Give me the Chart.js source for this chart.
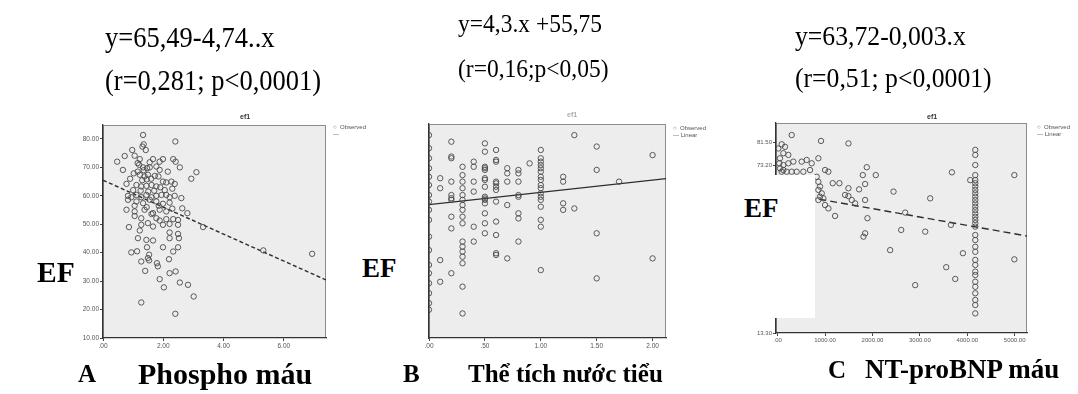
<!DOCTYPE html>
<html>
<head>
<meta charset="utf-8">
<script src="https://cdn.jsdelivr.net/npm/chart.js@4.4.0/dist/chart.umd.min.js"></script>
<style>
  body { margin:0; width:1078px; height:394px; background:#fff; position:relative; overflow:hidden;
         font-family:"Liberation Serif","Times New Roman",serif; }
  .eq { position:absolute; white-space:pre; color:#000; transform-origin:0 50%; transform:scaleY(1.08); }
  .ef { position:absolute; font-weight:bold; color:#000; }
  .cap { position:absolute; font-weight:bold; white-space:pre; color:#000; }
  .plot { position:absolute; }
  .plot canvas { filter: blur(0.45px); }
  .lg { position:absolute; font-family:"Liberation Sans",Arial,sans-serif; font-size:6px; line-height:7px;
        color:#555; white-space:pre; filter:blur(0.3px); }
  .ttl { position:absolute; font-family:"Liberation Sans",Arial,sans-serif; font-size:7px; font-weight:bold;
         color:#333; filter:blur(0.3px); }
  .mask { position:absolute; background:#fff; }
</style>
</head>
<body>

<!-- regression equations -->
<div class="eq" style="left:105px; top:24px; font-size:26.5px; line-height:26px;">y=65,49-4,74..x</div>
<div class="eq" style="left:105px; top:67px; font-size:26.5px; line-height:26px;">(r=0,281; p&lt;0,0001)</div>
<div class="eq" style="left:458px; top:11px; font-size:23.5px; line-height:24px;">y=4,3.x +55,75</div>
<div class="eq" style="left:458px; top:56px; font-size:23.5px; line-height:24px;">(r=0,16;p&lt;0,05)</div>
<div class="eq" style="left:795px; top:23px; font-size:25.7px; line-height:26px;">y=63,72-0,003.x</div>
<div class="eq" style="left:795px; top:65px; font-size:25.7px; line-height:26px;">(r=0,51; p&lt;0,0001)</div>

<!-- scatter panels -->
<div class="plot" style="left:60px; top:120px; width:270px; height:235px;"><canvas id="chartA"></canvas></div>
<div class="plot" style="left:405px; top:118px; width:265px; height:237px;"><canvas id="chartB"></canvas></div>
<div class="plot" style="left:735px; top:118px; width:296px; height:232px;"><canvas id="chartC"></canvas></div>

<!-- panel titles and legends -->
<div class="ttl" style="left:240px; top:113px;">ef1</div>
<div class="ttl" style="left:567px; top:111px; color:#aaa;">ef1</div>
<div class="ttl" style="left:927px; top:113px;">ef1</div>

<div class="lg" style="left:333px; top:124px;">○  Observed
—</div>
<div class="lg" style="left:673px; top:125px;">○  Observed
— Linear</div>
<div class="lg" style="left:1037px; top:124px;">○  Observed
— Linear</div>

<!-- white label box over the left part of panel C -->
<div class="mask" style="left:730px; top:175px; width:85px; height:143px;"></div>

<div class="ef" style="left:37px; top:258px; font-size:29.5px; line-height:29px;">EF</div>
<div class="ef" style="left:362px; top:255px; font-size:27px; line-height:27px;">EF</div>
<div class="ef" style="left:744px; top:195px; font-size:27px; line-height:27px;">EF</div>

<!-- panel captions -->
<div class="cap" style="left:78px; top:361px; font-size:25px; line-height:25px;">A</div>
<div class="cap" style="left:138px; top:359px; font-size:30px; line-height:30px;">Phospho máu</div>
<div class="cap" style="left:403px; top:361px; font-size:25px; line-height:25px;">B</div>
<div class="cap" style="left:468px; top:361px; font-size:25px; line-height:25px;">Thể tích nước tiểu</div>
<div class="cap" style="left:828px; top:357px; font-size:25px; line-height:25px;">C</div>
<div class="cap" style="left:865px; top:356px; font-size:27px; line-height:27px;">NT-proBNP máu</div>

<script>
// ---- Panel A: blood phosphorus vs EF ----
const phosphoA = [1.33,2.40,1.35,1.31,0.97,1.42,0.72,1.05,0.47,1.22,1.66,1.88,1.99,2.33,2.41,0.66,1.20,1.33,1.46,1.55,
  1.77,1.88,2.55,3.10,2.93,1.02,1.22,1.38,1.49,1.72,1.84,1.99,2.10,2.27,2.38,0.78,1.11,1.27,1.44,1.61,
  1.77,0.83,0.94,1.11,1.27,1.44,1.61,1.77,1.94,2.10,2.21,2.38,2.60,0.83,1.11,1.33,1.55,1.77,1.99,2.21,
  0.78,1.05,1.38,1.66,1.88,2.10,2.63,2.80,1.05,1.27,1.61,1.77,1.88,2.10,2.33,2.49,0.86,1.27,1.49,1.66,
  1.99,2.21,2.49,3.32,1.22,1.16,1.44,1.66,2.21,2.49,2.21,2.52,0.94,1.13,1.46,1.53,1.99,2.33,2.49,1.27,
  1.49,1.53,1.79,1.82,2.19,1.40,1.88,2.02,2.21,2.41,2.55,2.82,3.01,1.27,2.40,5.32,6.94,
  1.15,1.30,1.50,1.60,1.70,1.25,1.35,1.90,2.05,1.00,1.45,0.90,1.15,1.55,2.15,2.30,1.05,1.45,1.85,2.30];
const efA = [81.4,79.1,78.1,77.3,76.1,76.1,74.0,74.1,72.0,72.9,72.9,72.0,72.9,72.9,72.0,69.1,70.9,70.0,69.7,70.0,
  70.3,69.1,70.0,68.3,66.0,67.9,67.4,66.8,67.4,67.0,66.8,65.0,64.7,65.0,64.2,64.2,63.8,63.3,63.5,63.8,
  63.3,60.0,59.5,60.3,59.5,60.3,59.5,60.0,60.3,60.3,59.5,60.0,59.2,58.6,58.0,57.4,58.6,58.0,57.2,57.6,
  55.1,54.5,55.1,53.9,55.1,54.5,55.6,53.9,52.9,52.1,53.6,52.1,51.3,51.8,51.8,51.5,49.0,49.8,50.4,49.2,
  49.8,50.1,49.8,49.0,47.8,45.1,44.5,44.3,47.1,46.6,45.1,45.1,40.1,40.5,41.9,39.3,41.9,40.4,41.9,36.9,
  38.1,37.3,36.3,35.2,37.7,33.6,30.7,27.8,32.8,33.4,29.5,28.7,24.6,22.5,18.5,40.8,39.6,
  68.5,65.5,61.5,66.0,61.8,61.8,69.0,63.0,62.0,62.0,65.8,66.0,71.5,71.8,68.5,62.5,56.5,56.0,56.5,55.5];
const regA = { intercept: 65.49, slope: -4.74 };
const xTicksA = [0, 2, 4, 6];
const yTicksA = [10, 20, 30, 40, 50, 60, 70, 80];

// ---- Panel B: urine volume vs EF ----
const urineB = [0,0,0,0,0,0,0,0,0,0,0,0,0,0,0,0,0,0,
  0.1,0.1,0.1,0.1,
  0.2,0.2,0.2,0.2,0.2,0.2,0.2,0.2,0.2,0.2,
  0.3,0.3,0.3,0.3,0.3,0.3,0.3,0.3,0.3,0.3,0.3,0.3,0.3,0.3,0.3,0.3,0.3,
  0.4,0.4,0.4,0.4,0.4,0.4,
  0.5,0.5,0.5,0.5,0.5,0.5,0.5,0.5,0.5,0.5,0.5,0.5,0.5,0.5,0.5,
  0.6,0.6,0.6,0.6,0.6,0.6,0.6,0.6,0.6,0.6,0.6,0.6,
  0.7,0.7,0.7,0.7,0.7,
  0.8,0.8,0.8,0.8,0.8,0.8,0.8,0.8,
  0.9,
  1.0,1.0,1.0,1.0,1.0,1.0,1.0,1.0,1.0,1.0,1.0,1.0,1.0,1.0,1.0,1.0,1.0,
  1.2,1.2,1.2,1.2,
  1.3,1.3,
  1.5,1.5,1.5,1.5,
  1.7,
  2.0,2.0];
const efB = [80.1,75.5,72.0,68.5,65.5,62.6,59.1,56.8,53.9,50.4,44.5,39.8,34.6,31.7,28.2,24.7,21.2,18.9,
  65.0,61.5,36.3,28.7,
  77.8,72.6,72.0,63.8,59.1,58.0,57.4,51.5,47.4,31.7,
  69.0,66.1,63.8,61.5,59.1,57.4,55.6,53.9,51.5,49.2,42.8,41.0,39.3,37.5,35.2,27.0,17.6,
  70.8,69.0,63.8,60.3,48.0,42.8,
  77.2,74.3,69.0,68.5,67.9,65.0,64.4,62.0,58.5,57.9,57.4,56.2,52.7,49.2,45.7,
  74.9,71.4,70.8,63.8,63.2,62.0,60.9,56.8,49.8,45.1,38.7,38.1,
  68.5,66.7,63.8,55.6,36.9,
  67.9,66.7,63.8,59.1,58.5,52.7,50.9,42.8,
  70.2,
  74.9,72.0,70.8,69.6,68.5,67.3,65.5,64.4,62.6,61.5,59.7,58.5,57.4,55.0,50.4,48.0,32.8,
  65.5,63.8,56.2,53.9,
  80.1,54.4,
  76.1,67.9,45.7,29.9,
  63.8,
  73.1,36.9];
const regB = { intercept: 55.75, slope: 4.3 };
const xTicksB = [0, 0.5, 1, 1.5, 2];

// ---- Panel C: NT-proBNP vs EF ----
const bnpC = [296,85,155,14,120,225,49,35,120,225,331,507,613,718,859,49,120,85,190,296,401,542,683,
  915,1493,1000,1070,824,859,894,859,930,894,965,859,1000,1070,1162,1303,1211,1493,1423,1493,1563,1634,
  1718,1796,1845,1880,1845,1894,1810,1845,2070,2444,2690,2606,2373,2901,3113,3218,3556,3655,3676,3746,3908,4063,
  4169,4169,4169,4169,4169,4169,4169,4169,4169,4169,4169,4169,4169,4169,4169,4169,4169,4169,4169,4169,4169,
  4169,4169,4169,4169,4169,4169,4169,4169,4169,4169,4169,4169,
  4993,4993];
const efC = [84.0,80.7,79.8,79.2,77.5,76.9,75.7,73.9,73.3,73.9,74.5,74.5,75.1,73.9,75.7,72.1,71.5,70.9,70.9,70.9,70.9,70.9,71.5,
  81.9,81.0,71.5,70.9,69.1,67.3,65.6,64.4,63.2,62.0,61.4,60.8,59.0,57.8,66.8,66.8,55.1,65.0,62.6,62.2,60.8,59.6,
  64.6,69.7,66.5,72.5,60.8,54.3,47.7,48.9,69.7,63.8,56.3,50.1,42.9,30.4,49.5,61.4,36.8,51.9,70.7,32.6,41.8,67.9,
  78.7,76.9,73.3,69.7,67.9,66.8,65.6,64.4,63.2,62.0,60.8,59.6,58.4,57.2,56.0,54.8,53.7,52.5,51.3,48.3,46.5,
  44.1,42.3,39.4,37.6,35.2,34.0,31.6,29.8,27.5,25.1,23.3,20.3,
  69.7,39.6];
const regC = { intercept: 63.72, slope: -0.003 };
const xTicksC = [0, 1000, 2000, 3000, 4000, 5000];
const yTicksC = [13.30, 73.20, 81.50];

// ---- drawing helpers ----
const pts = (xs, ys) => xs.map((x, i) => ({ x: x, y: ys[i] }));
const fitLine = (reg, x0, x1) => [
  { x: x0, y: reg.intercept + reg.slope * x0 },
  { x: x1, y: reg.intercept + reg.slope * x1 }
];
const fmt = v => { const s = Number(v).toFixed(2); return s.startsWith('0.') ? s.slice(1) : s; };

// light grey plot background with a thin frame
const panelFrame = {
  id: 'panelFrame',
  beforeDraw(chart) {
    const { ctx, chartArea: a } = chart;
    ctx.save();
    ctx.fillStyle = '#ededed';
    ctx.fillRect(a.left, a.top, a.right - a.left, a.bottom - a.top);
    ctx.strokeStyle = '#8c8c8c';
    ctx.lineWidth = 1;
    ctx.strokeRect(a.left + 0.5, a.top + 0.5, a.right - a.left - 1, a.bottom - a.top - 1);
    ctx.restore();
  }
};

function axis(min, max, ticks, size, labels, fontSize) {
  return {
    type: 'linear', min: min, max: max,
    afterBuildTicks: s => { s.ticks = ticks.map(v => ({ value: v })); },
    afterFit: s => { if (s.isHorizontal()) s.height = size; else s.width = size; },
    ticks: { display: labels, font: { family: 'Liberation Sans', size: fontSize }, color: '#555',
             padding: 1, maxRotation: 0, autoSkip: false, callback: v => fmt(v) },
    grid: { drawOnChartArea: false, drawTicks: true, tickLength: 3, color: '#444', lineWidth: 1 },
    border: { display: true, color: '#333', width: 1.3 }
  };
}

function panel(id, data, line, dash, xs, ys, pad) {
  return new Chart(document.getElementById(id), {
    data: {
      datasets: [
        { type: 'scatter', data: data, pointStyle: 'circle', pointRadius: 2.7, pointHoverRadius: 2.7,
          pointBorderWidth: 0.9, borderColor: '#4a4a4a', backgroundColor: 'rgba(0,0,0,0)' },
        { type: 'line', data: line, borderColor: '#2e2e2e', borderWidth: 1.4, borderDash: dash,
          pointRadius: 0, fill: false, tension: 0 }
      ]
    },
    options: {
      responsive: true, maintainAspectRatio: false, animation: false,
      layout: { padding: pad },
      plugins: { legend: { display: false }, tooltip: { enabled: false } },
      scales: { x: xs, y: ys }
    },
    plugins: [panelFrame]
  });
}

panel('chartA', pts(phosphoA, efA), fitLine(regA, 0, 7.4), [4, 2.5],
  axis(0, 7.4, xTicksA, 17, true, 6.5),
  axis(10, 84.9, yTicksA, 43, true, 6.5),
  { top: 5, right: 4, left: 0, bottom: 0 });

panel('chartB', pts(urineB, efB), fitLine(regB, 0, 2.12), [],
  axis(0, 2.12, xTicksB, 17, true, 6.5),
  axis(9, 84, [], 24, false, 6.5),
  { top: 6, right: 4, left: 0, bottom: 0 });

panel('chartC', pts(bnpC, efC), fitLine(regC, -35, 5260), [7, 4],
  axis(-35, 5260, xTicksC, 17, true, 6),
  axis(13.3, 88.3, yTicksC, 41, true, 6),
  { top: 5, right: 4, left: 0, bottom: 0 });
</script>
</body>
</html>
